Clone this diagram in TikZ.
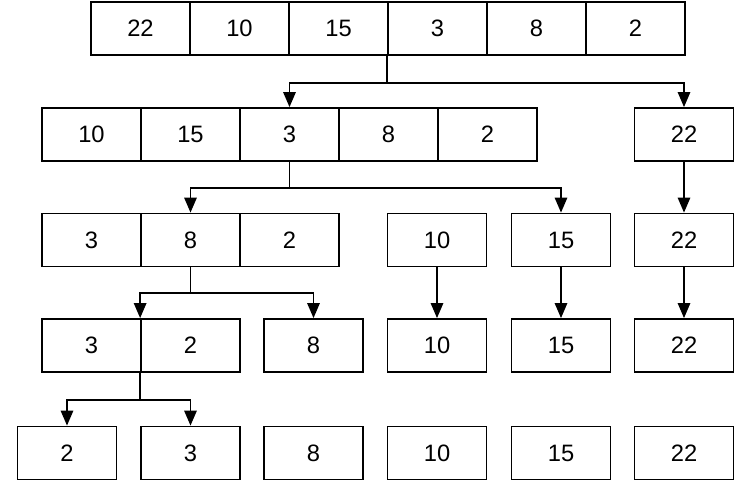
\documentclass[tikz,border=0pt]{standalone}
\usepackage{fontspec}
\setmainfont{Liberation Sans}
\usetikzlibrary{arrows.meta}

\tikzset{
	cell/.style={draw, line width=1pt, minimum width=1.98cm, minimum height=1.06cm, inner sep=0pt,
		text height=9.5pt, text depth=0pt, font=\fontsize{13.5}{16}\selectfont},
	wire/.style={line width=1pt},
	split/.style={line width=1pt, -{Triangle[length=8.5pt,width=7pt]}},
}

\begin{document}
\begin{tikzpicture}[x=0.02cm, y=-0.02cm]
	\useasboundingbox (0,0) rectangle (750,500);

	% row 1: whole array
	\foreach \i/\v in {1/22, 2/10, 3/15, 4/3, 5/8, 6/2}
		\node[cell] (a\i) at (41.5+99*\i, 28.5) {\v};

	% row 2
	\foreach \i/\v in {1/10, 2/15, 3/3, 4/8, 5/2}
		\node[cell] (b\i) at (-7.5+99*\i, 134.5) {\v};
	\node[cell] (b6) at (684, 134.5) {22};

	% row 3
	\foreach \i/\v in {1/3, 2/8, 3/2}
		\node[cell] (c\i) at (-7.5+99*\i, 240) {\v};
	\node[cell] (c4) at (437, 240) {10};
	\node[cell] (c5) at (561, 240) {15};
	\node[cell] (c6) at (684, 240) {22};

	% row 4
	\node[cell] (d1) at (91.5, 345.5) {3};
	\node[cell] (d2) at (190.5, 345.5) {2};
	\node[cell] (d3) at (313.5, 345.5) {8};
	\node[cell] (d4) at (437, 345.5) {10};
	\node[cell] (d5) at (561, 345.5) {15};
	\node[cell] (d6) at (684, 345.5) {22};

	% row 5: sorted
	\node[cell] (e1) at (67, 453) {2};
	\node[cell] (e2) at (190.5, 453) {3};
	\node[cell] (e3) at (313.5, 453) {8};
	\node[cell] (e4) at (437, 453) {10};
	\node[cell] (e5) at (561, 453) {15};
	\node[cell] (e6) at (684, 453) {22};

	% splits
	\draw[wire] (a4.south west) -- ++(0,27) coordinate (j1);
	\draw[split] (j1) -| (b3.north);
	\draw[split] (j1) -| (b6.north);

	\draw[wire] (b3.south) -- ++(0,26) coordinate (j2);
	\draw[split] (j2) -| (c2.north);
	\draw[split] (j2) -| (c5.north);

	\draw[wire] (c2.south) -- ++(0,26) coordinate (j3);
	\draw[split] (j3) -| (d2.north west);
	\draw[split] (j3) -| (d3.north);

	\draw[wire] (d2.south west) -- ++(0,27) coordinate (j4);
	\draw[split] (j4) -| (e1.north);
	\draw[split] (j4) -| (e2.north);

	% single elements pass down
	\draw[split] (b6) -- (c6);
	\draw[split] (c4) -- (d4);
	\draw[split] (c5) -- (d5);
	\draw[split] (c6) -- (d6);
\end{tikzpicture}
\end{document}
